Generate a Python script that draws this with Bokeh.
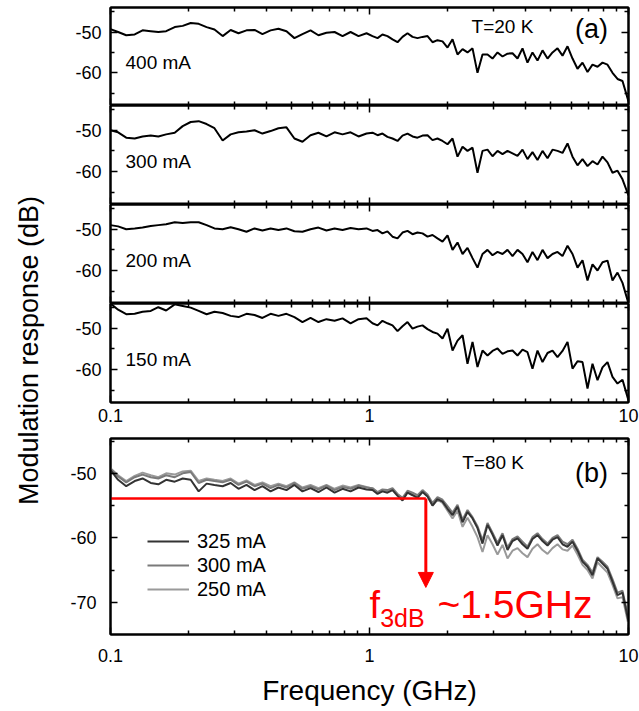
import math
from bokeh.plotting import figure
from bokeh.layouts import row, column
from bokeh.models import (Range1d, LinearAxis, LogAxis, FixedTicker, CustomJSTickFormatter,
                          BasicTickFormatter, Label, Legend, LegendItem, Arrow, NormalHead)
from bokeh.embed import file_html
from bokeh.resources import INLINE

FONT = "Liberation Sans"
RED = "#ff0000"

# ---------------- data ----------------
freq = [0.100, 0.107, 0.115, 0.124, 0.133, 0.143, 0.153, 0.164, 0.177, 0.190,
        0.204, 0.219, 0.235, 0.252, 0.271, 0.291, 0.312, 0.335, 0.360, 0.386,
        0.415, 0.445, 0.478, 0.513, 0.551, 0.592, 0.635, 0.682, 0.733, 0.787,
        0.845, 0.907, 0.974,
        1.027, 1.074, 1.122, 1.173, 1.227, 1.283, 1.341, 1.402, 1.466, 1.532,
        1.602, 1.675, 1.751, 1.830, 1.914, 2.001, 2.092, 2.187, 2.287, 2.390,
        2.499, 2.612, 2.731, 2.855, 2.985, 3.121, 3.263, 3.411, 3.566, 3.728,
        3.897, 4.074, 4.259, 4.453, 4.656, 4.868, 5.089, 5.320, 5.562, 5.815,
        6.079, 6.355, 6.644, 6.946, 7.261, 7.592, 7.937, 8.297, 8.674, 9.069,
        9.480, 10.0]

resp_400 = [-49.3, -50.0, -50.8, -50.6, -49.6, -49.8, -50.0, -49.8, -48.8, -48.5,
            -47.8, -48.0, -48.8, -49.4, -51.0, -49.5, -50.3, -49.6, -49.5, -50.5,
            -49.6, -49.2, -49.8, -51.5, -50.5, -49.6, -50.8, -50.2, -50.0, -51.0,
            -50.0, -51.0, -50.3,
            -51.0, -51.5, -50.6, -51.0, -51.8, -52.5, -51.2, -50.3, -51.2, -51.5,
            -51.2, -51.0, -52.5, -52.0, -52.3, -53.8, -51.8, -55.5, -54.2, -55.0,
            -54.0, -60.0, -55.5, -55.5, -56.5, -55.0, -56.0, -55.3, -55.2, -56.5,
            -54.0, -57.5, -55.0, -57.0, -54.5, -56.5, -55.0, -54.0, -55.8, -53.5,
            -56.5, -59.0, -57.5, -59.8, -58.0, -58.5, -57.5, -58.0, -60.0, -61.5,
            -62.0, -67.0]

resp_300 = [-50.0, -50.5, -51.8, -52.0, -51.5, -51.3, -51.5, -51.0, -50.6, -49.0,
            -48.0, -47.8, -48.5, -49.5, -52.5, -51.0, -50.5, -50.3, -50.0, -50.8,
            -50.2, -49.5, -49.3, -52.0, -52.8, -51.2, -50.6, -51.5, -50.5, -51.0,
            -50.5, -51.5, -50.8,
            -50.6, -51.2, -50.8, -51.6, -52.0, -52.6, -51.3, -50.8, -51.5, -51.8,
            -51.3, -51.2, -52.4, -52.0, -52.6, -53.4, -52.0, -56.4, -54.0, -55.0,
            -54.2, -60.3, -55.0, -54.7, -56.3, -55.0, -55.8, -55.0, -55.6, -56.2,
            -54.7, -57.0, -55.3, -57.2, -55.0, -56.8, -54.7, -55.0, -55.5, -53.2,
            -56.4, -58.5, -57.0, -58.7, -57.5, -58.3, -56.4, -57.8, -60.3, -59.8,
            -61.9, -65.8]

resp_200 = [-49.0, -49.3, -50.0, -49.8, -49.6, -49.2, -49.0, -48.8, -48.3, -48.5,
            -48.3, -48.3, -49.0, -49.8, -50.0, -49.5, -50.0, -50.6, -49.8, -50.3,
            -49.8, -50.2, -49.8, -50.5, -50.6, -50.0, -49.6, -50.3, -49.8, -50.2,
            -49.7, -50.0, -49.8,
            -50.4, -50.2, -51.0, -50.5, -51.8, -52.2, -50.8, -50.4, -51.2, -50.8,
            -51.0, -51.8, -51.4, -52.2, -53.0, -51.5, -55.0, -53.2, -56.0, -54.5,
            -57.0, -59.3, -56.0, -55.0, -56.3, -55.5, -56.0, -55.0, -56.5, -55.0,
            -56.0, -58.0, -55.5, -57.5, -55.0, -57.0, -56.0, -55.5, -56.5, -54.0,
            -56.0, -59.3, -57.5, -62.4, -58.5, -60.0, -58.0, -57.6, -62.4, -60.5,
            -63.0, -68.0]

resp_150 = [-44.0, -45.5, -46.6, -46.5, -46.0, -45.8, -44.9, -45.7, -44.2, -44.6,
            -45.0, -45.8, -46.6, -46.0, -46.3, -47.0, -47.3, -46.5, -46.8, -47.5,
            -46.5, -47.0, -46.5, -47.3, -48.5, -47.5, -48.5, -47.8, -48.2, -47.6,
            -48.8, -47.8, -47.6,
            -48.8, -49.3, -48.2, -48.8, -49.3, -50.7, -49.5, -48.5, -50.1, -49.6,
            -49.3, -50.2, -50.9, -51.3, -52.5, -50.1, -55.4, -53.0, -51.7, -58.6,
            -53.3, -59.4, -55.4, -56.6, -55.5, -54.9, -56.2, -55.6, -55.4, -56.6,
            -55.2, -55.8, -59.8, -55.4, -58.2, -56.0, -55.4, -57.0, -55.5, -53.3,
            -59.8, -58.0, -58.2, -64.6, -58.6, -62.6, -59.5, -58.2, -61.8, -63.4,
            -62.5, -67.5]

resp_b_325 = [-49.5, -51.0, -52.0, -51.2, -50.8, -51.5, -51.7, -51.0, -51.3, -50.8,
              -51.0, -52.8, -51.6, -51.8, -52.0, -51.5, -52.4, -51.8, -52.6, -52.0,
              -52.8, -52.2, -52.6, -51.8, -52.8, -52.3, -52.9, -52.2, -53.0, -52.4,
              -52.8, -52.2, -52.5,
              -52.6, -53.2, -52.8, -53.0, -52.6, -53.5, -54.2, -53.0, -53.4, -53.8,
              -52.9, -53.6, -55.0, -54.0, -54.4, -55.5, -56.5, -55.2, -57.6, -56.0,
              -57.0, -58.5, -60.9, -58.0, -59.5, -61.2, -59.6, -61.9, -60.5, -60.1,
              -61.0, -61.7, -60.2, -59.6, -60.5, -61.2, -60.3, -59.9, -61.0, -61.4,
              -60.6, -62.0, -63.7, -64.5, -65.8, -63.2, -64.0, -64.8, -66.8, -68.9,
              -68.5, -73.0]

resp_b_300 = [-49.3, -50.5, -51.4, -50.6, -50.2, -50.6, -50.8, -50.3, -50.6, -50.0,
              -49.8, -51.5, -51.0, -51.2, -51.4, -51.0, -51.8, -51.3, -52.0, -51.6,
              -52.3, -51.8, -52.2, -51.5, -52.4, -52.0, -52.5, -51.9, -52.6, -52.1,
              -52.4, -51.9, -52.2,
              -52.3, -52.9, -52.5, -52.6, -52.3, -53.2, -53.8, -52.7, -53.0, -53.4,
              -52.6, -53.3, -54.6, -53.7, -54.1, -55.1, -56.1, -54.9, -57.2, -55.7,
              -56.8, -58.2, -60.4, -57.7, -59.2, -60.8, -59.3, -61.5, -60.2, -59.8,
              -60.6, -61.4, -59.9, -59.3, -60.2, -60.9, -60.0, -59.6, -60.6, -61.0,
              -60.3, -61.7, -63.4, -64.2, -65.4, -63.0, -63.7, -64.5, -66.4, -68.5,
              -68.2, -72.5]

resp_b_250 = [-49.2, -50.3, -51.2, -50.4, -49.9, -50.3, -50.6, -50.0, -50.2, -49.7,
              -49.6, -51.2, -50.8, -51.0, -51.2, -50.8, -51.6, -51.1, -51.8, -51.4,
              -52.0, -51.6, -52.0, -51.4, -52.2, -51.8, -52.3, -51.8, -52.4, -51.9,
              -52.2, -51.8, -52.1,
              -52.4, -53.0, -52.6, -52.8, -52.5, -53.3, -54.0, -52.9, -53.2, -53.6,
              -52.8, -53.5, -55.0, -54.1, -54.6, -55.8, -57.0, -55.8, -58.3, -56.9,
              -58.3, -59.9, -62.2, -59.6, -61.0, -62.6, -61.1, -63.2, -62.0, -61.6,
              -62.4, -63.0, -61.7, -61.0, -61.9, -62.5, -61.6, -61.0, -61.8, -62.0,
              -61.2, -62.6, -64.2, -65.0, -66.3, -63.8, -64.6, -65.4, -67.3, -69.4,
              -69.2, -73.5]

panel_a_names = ["400 mA", "300 mA", "200 mA", "150 mA"]
panel_b_names = ["325 mA", "300 mA", "250 mA"]
panel_b_colors = ["#333333", "#7a7a7a", "#9a9a9a"]

X_MIN, X_MAX = 0.1, 10.0
x_major = [0.1, 1, 10]
x_minor = [0.2, 0.3, 0.4, 0.5, 0.6, 0.7, 0.8, 0.9, 2, 3, 4, 5, 6, 7, 8, 9]
x_tick_labels = ["0.1", "1", "10"]
ya_major = [-60, -50]
ya_minor = [-65, -55, -45]
ya_tick_labels = ["-60", "-50"]
yb_major = [-70, -60, -50]
yb_minor = [-65, -55, -45]
yb_tick_labels = ["-70", "-60", "-50"]
YA_RANGE = (-68.0, -44.0)
YB_RANGE = (-75.0, -44.6)

f3db_freq = 1.65      # GHz, corner of the red marker
f3db_level = -53.9    # dB, red horizontal level
f3db_arrow_end = -67.7

# ---------------- helpers ----------------
MAIN_W = 581


def make_axis(cls, major, minor, show, standoff=0, labels=None, size="18px"):
    ax = cls(ticker=FixedTicker(ticks=major, minor_ticks=minor))
    ax.axis_line_color = "black"
    ax.axis_line_width = 2
    ax.major_tick_line_color = "black"
    ax.major_tick_line_width = 1.5
    ax.minor_tick_line_color = "black"
    ax.minor_tick_line_width = 1.5
    ax.major_tick_in = 7
    ax.major_tick_out = 0
    ax.minor_tick_in = 4
    ax.minor_tick_out = 0
    if show:
        ax.major_label_text_font = FONT
        ax.major_label_text_font_size = size
        ax.major_label_text_color = "black"
        ax.major_label_standoff = standoff
        if labels is not None:
            ax.formatter = BasicTickFormatter()
            ax.major_label_overrides = {t: s for t, s in zip(major, labels)}
    else:
        ax.formatter = CustomJSTickFormatter(code="return ''")
        ax.major_label_text_font_size = "0px"
        ax.major_label_standoff = 0
    return ax


def make_panel(h, y_rng, b_top, b_bottom, b_left, show_x, ymaj, ymin, ylabels, ystand, xstand=6):
    p = figure(width=MAIN_W, height=h, x_axis_type="log",
               x_range=Range1d(X_MIN, X_MAX), y_range=Range1d(*y_rng),
               x_axis_location=None, y_axis_location=None,
               output_backend="svg", toolbar_location=None,
               min_border_left=b_left, min_border_right=11,
               min_border_top=b_top, min_border_bottom=b_bottom,
               background_fill_color="white", border_fill_color="white",
               outline_line_color="black", outline_line_width=2)
    p.grid.visible = False
    p.add_layout(make_axis(LogAxis, x_major, x_minor, show_x, xstand, x_tick_labels), "below")
    p.add_layout(make_axis(LogAxis, x_major, x_minor, False), "above")
    p.add_layout(make_axis(LinearAxis, ymaj, ymin, True, ystand, ylabels), "left")
    p.add_layout(make_axis(LinearAxis, ymaj, ymin, False), "right")
    return p


# ---------------- panel (a) ----------------
series_a = [resp_400, resp_300, resp_200, resp_150]
heights_a = [105, 99, 99, 134]
tops_a = [7, 0, 0, 0]
bottoms_a = [0, 0, 0, 35]
figs = []
for i, (ys, name) in enumerate(zip(series_a, panel_a_names)):
    p = make_panel(heights_a[i], YA_RANGE, tops_a[i], bottoms_a[i], 52, i == 3,
                   ya_major, ya_minor, ya_tick_labels, 9, 6)
    p.line(freq, ys, line_color="black", line_width=2)
    p.add_layout(Label(x=0.1143, y=-57.5, text=name, text_font=FONT, text_font_size="19px",
                       text_baseline="middle", text_align="left", text_color="black"))
    figs.append(p)

figs[0].add_layout(Label(x=3.26, y=-48.6, text="T=20 K", text_font=FONT, text_font_size="19px",
                         text_baseline="middle", text_align="center", text_color="black"))
figs[0].add_layout(Label(x=7.2, y=-49.3, text="(a)", text_font=FONT, text_font_size="27px",
                         text_baseline="middle", text_align="center", text_color="black"))

# ---------------- panel (b) ----------------
pb = make_panel(274, YB_RANGE, 1, 77, 50, True, yb_major, yb_minor, yb_tick_labels, 14, 14)
bx = pb.below[0]
bx.axis_label = "Frequency (GHz)"
bx.axis_label_text_font = FONT
bx.axis_label_text_font_size = "28px"
bx.axis_label_text_font_style = "normal"
bx.axis_label_text_color = "black"
bx.axis_label_standoff = 10

series_b = [resp_b_325, resp_b_300, resp_b_250]
rends = {}
for ys, name, col in reversed(list(zip(series_b, panel_b_names, panel_b_colors))):
    rends[name] = pb.line(freq, ys, line_color=col, line_width=2)

legend = Legend(items=[LegendItem(label=n, renderers=[rends[n]]) for n in panel_b_names],
                location=(37, 33), padding=0, margin=0, spacing=0,
                glyph_width=42, glyph_height=24, label_height=24, label_standoff=8,
                label_text_font=FONT, label_text_font_size="20px", label_text_color="black",
                border_line_color=None, background_fill_alpha=0)
pb.add_layout(legend)

pb.segment(x0=[X_MIN], y0=[f3db_level], x1=[f3db_freq], y1=[f3db_level],
           line_color=RED, line_width=2.5)
pb.add_layout(Arrow(end=NormalHead(size=15, fill_color=RED, line_color=RED),
                    x_start=f3db_freq, y_start=f3db_level, x_end=f3db_freq, y_end=f3db_arrow_end,
                    line_color=RED, line_width=3))

pb.add_layout(Label(x=1.0, y=-70.4, text="f", text_font=FONT, text_font_size="38px",
                    text_baseline="middle", text_align="left", text_color=RED))
pb.add_layout(Label(x=1.10, y=-72.4, text="3dB", text_font=FONT, text_font_size="25px",
                    text_baseline="middle", text_align="left", text_color=RED))
pb.add_layout(Label(x=1.83, y=-70.4, text="~1.5GHz", text_font=FONT, text_font_size="39px",
                    text_baseline="middle", text_align="left", text_color=RED))
pb.add_layout(Label(x=3.0, y=-48.3, text="T=80 K", text_font=FONT, text_font_size="19px",
                    text_baseline="middle", text_align="center", text_color="black"))
pb.add_layout(Label(x=7.2, y=-50.0, text="(b)", text_font=FONT, text_font_size="27px",
                    text_baseline="middle", text_align="center", text_color="black"))
figs.append(pb)

# ---------------- y label strip ----------------
pl = figure(width=58, height=711, x_range=Range1d(0, 58), y_range=Range1d(0, 711),
            x_axis_location=None, y_axis_location=None, output_backend="svg",
            toolbar_location=None, min_border=0, outline_line_color=None,
            background_fill_color="white", border_fill_color="white")
pl.grid.visible = False
pl.add_layout(Label(x=28, y=361, text="Modulation response (dB)", angle=math.pi / 2,
                    text_font=FONT, text_font_size="27px", text_align="center",
                    text_baseline="middle", text_color="black"))

layout = row(pl, column(*figs, spacing=0), spacing=0)

with open("out.html", "w") as f:
    f.write(file_html(layout, INLINE))
